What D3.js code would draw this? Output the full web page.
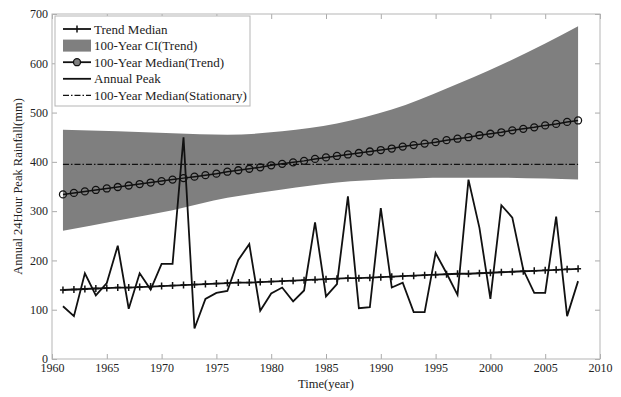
<html>
<head>
<style>
  body { margin: 0; background: #fff; font-family: "Liberation Serif", "Times New Roman", serif; overflow: hidden; }
  svg { display: block; }
  .tick text { font-family: "Liberation Serif", "Times New Roman", serif; font-size: 12px; fill: #222; }
  .tick line { stroke: #aaa; }
</style>
</head>
<body>
<div id="chart-holder"></div>
<script src="https://d3js.org/d3.v7.min.js"></script>
<script>
// data
var years = d3.range(1961, 2009);

var annualPeak = [107, 87, 174, 129, 154, 230, 102, 174, 141, 193,
                  193, 450, 62, 122, 134, 138, 201, 233, 98, 133,
                  145, 117, 139, 277, 127, 152, 330, 103, 105, 306,
                  145, 155, 95, 95, 215, 174, 130, 364, 266, 122,
                  312, 287, 181, 134, 134, 289, 87, 158];

var trendMedian = [140, 141, 142, 143, 144, 145, 145, 146, 147, 148,
                   149, 150, 151, 152, 153, 154, 155, 155, 156, 157,
                   158, 159, 160, 161, 162, 163, 164, 164, 165, 166,
                   167, 168, 169, 170, 171, 172, 173, 173, 174, 175,
                   176, 177, 178, 179, 180, 181, 182, 183];

var median100Trend = [334, 337, 340, 343, 346, 349, 352, 355, 358, 361,
                      364, 367, 370, 373, 376, 380, 383, 386, 389, 393,
                      396, 399, 402, 406, 409, 412, 415, 418, 421, 424,
                      427, 431, 434, 437, 440, 444, 447, 450, 454, 457,
                      460, 464, 467, 470, 474, 477, 481, 484];

var median100Stationary = 395;

var ciYears = [1961, 1966, 1971, 1976, 1981, 1986, 1991, 1996, 2001, 2005, 2008];
var ciUpper = [465, 462, 458, 455, 462, 478, 506, 549, 597, 640, 675];
var ciLower = [260, 281, 302, 327, 344, 358, 365, 368, 368, 366, 364];

var xTicks = [1960, 1965, 1970, 1975, 1980, 1985, 1990, 1995, 2000, 2005, 2010];
var yTicks = [0, 100, 200, 300, 400, 500, 600, 700];

var legendLabels = ['Trend Median', '100-Year CI(Trend)', '100-Year Median(Trend)',
                    'Annual Peak', '100-Year Median(Stationary)'];

var width = 621;
var height = 397;
var margin = {top: 14, right: 21, bottom: 38, left: 52};
var innerWidth = width - margin.left - margin.right;
var innerHeight = height - margin.top - margin.bottom;

var svg = d3.select('#chart-holder')
    .append('svg')
    .attr('width', width)
    .attr('height', height);

var g = svg.append('g')
    .attr('transform', 'translate(' + margin.left + ',' + margin.top + ')');

var x = d3.scaleLinear().domain([1960, 2010]).range([0, innerWidth]);
var y = d3.scaleLinear().domain([0, 700]).range([innerHeight, 0]);

// axes (ticks pointing inward on all sides)
g.append('g')
    .attr('transform', 'translate(0,' + innerHeight + ')')
    .call(d3.axisBottom(x).tickValues(xTicks).tickFormat(d3.format('d'))
        .tickSizeInner(-5).tickSizeOuter(0).tickPadding(4))
    .call(function(a) { a.select('.domain').remove(); });

g.append('g')
    .call(d3.axisTop(x).tickValues(xTicks).tickFormat('')
        .tickSizeInner(-5).tickSizeOuter(0))
    .call(function(a) { a.select('.domain').remove(); });

g.append('g')
    .call(d3.axisLeft(y).tickValues(yTicks)
        .tickSizeInner(-5).tickSizeOuter(0).tickPadding(4))
    .call(function(a) { a.select('.domain').remove(); });

g.append('g')
    .attr('transform', 'translate(' + innerWidth + ',0)')
    .call(d3.axisRight(y).tickValues(yTicks).tickFormat('')
        .tickSizeInner(-5).tickSizeOuter(0))
    .call(function(a) { a.select('.domain').remove(); });

// CI band
var ciData = ciYears.map(function(yr, i) {
    return {year: yr, lo: ciLower[i], hi: ciUpper[i]};
});

g.append('path')
    .datum(ciData)
    .attr('fill', '#7f7f7f')
    .attr('d', d3.area()
        .curve(d3.curveMonotoneX)
        .x(function(d) { return x(d.year); })
        .y0(function(d) { return y(d.lo); })
        .y1(function(d) { return y(d.hi); }));

// stationary median
g.append('line')
    .attr('x1', x(years[0]))
    .attr('x2', x(years[years.length - 1]))
    .attr('y1', y(median100Stationary))
    .attr('y2', y(median100Stationary))
    .attr('stroke', '#111')
    .attr('stroke-width', 1.2)
    .attr('stroke-dasharray', '6,2,1.5,2');

var line = d3.line()
    .x(function(d) { return x(d[0]); })
    .y(function(d) { return y(d[1]); });

// 100-year median (trend)
var medData = years.map(function(yr, i) { return [yr, median100Trend[i]]; });
g.append('path')
    .datum(medData)
    .attr('fill', 'none')
    .attr('stroke', '#111')
    .attr('stroke-width', 1.5)
    .attr('d', line);

g.selectAll('.circ')
    .data(medData)
    .enter()
    .append('circle')
    .attr('class', 'circ')
    .attr('cx', function(d) { return x(d[0]); })
    .attr('cy', function(d) { return y(d[1]); })
    .attr('r', 3.5)
    .attr('fill', 'none')
    .attr('stroke', '#111')
    .attr('stroke-width', 1.3);

// annual peak
var peakData = years.map(function(yr, i) { return [yr, annualPeak[i]]; });
g.append('path')
    .datum(peakData)
    .attr('fill', 'none')
    .attr('stroke', '#111')
    .attr('stroke-width', 1.8)
    .attr('d', line);

// trend median
var trendData = years.map(function(yr, i) { return [yr, trendMedian[i]]; });
g.append('path')
    .datum(trendData)
    .attr('fill', 'none')
    .attr('stroke', '#111')
    .attr('stroke-width', 1.8)
    .attr('d', line);

g.selectAll('.plus')
    .data(trendData)
    .enter()
    .append('path')
    .attr('class', 'plus')
    .attr('d', function(d) {
        var cx = x(d[0]), cy = y(d[1]);
        return 'M' + (cx - 3) + ',' + cy + 'H' + (cx + 3) +
               'M' + cx + ',' + (cy - 3.5) + 'V' + (cy + 3.5);
    })
    .attr('stroke', '#111')
    .attr('stroke-width', 1.5);

// frame
g.append('rect')
    .attr('width', innerWidth)
    .attr('height', innerHeight)
    .attr('fill', 'none')
    .attr('stroke', '#b5b5b5')
    .attr('stroke-width', 1);

// legend
var lg = g.append('g').attr('transform', 'translate(3,2)');
lg.append('rect')
    .attr('width', 195)
    .attr('height', 90)
    .attr('fill', '#fff')
    .attr('stroke', '#b5b5b5');

legendLabels.forEach(function(label, i) {
    var cy = 13 + i * 16.6;
    var row = lg.append('g');
    if (i === 1) {
        row.append('rect')
            .attr('x', 8).attr('y', cy - 6)
            .attr('width', 28).attr('height', 12)
            .attr('fill', '#7f7f7f');
    } else {
        var ln = row.append('line')
            .attr('x1', 8).attr('x2', 36)
            .attr('y1', cy).attr('y2', cy)
            .attr('stroke', '#111')
            .attr('stroke-width', i === 4 ? 1.2 : 1.8);
        if (i === 4) ln.attr('stroke-dasharray', '6,2,1.5,2');
    }
    if (i === 0) {
        row.append('line')
            .attr('x1', 22).attr('x2', 22)
            .attr('y1', cy - 3.5).attr('y2', cy + 3.5)
            .attr('stroke', '#111').attr('stroke-width', 1.5);
    }
    if (i === 2) {
        row.append('circle')
            .attr('cx', 22).attr('cy', cy).attr('r', 3.5)
            .attr('fill', '#7f7f7f')
            .attr('stroke', '#111').attr('stroke-width', 1.3);
    }
    row.append('text')
        .attr('x', 39)
        .attr('y', cy)
        .attr('dominant-baseline', 'central')
        .style('font-size', '13px')
        .style('fill', '#222')
        .text(label);
});

// axis labels
svg.append('text')
    .attr('x', margin.left + innerWidth / 2)
    .attr('y', 388)
    .attr('text-anchor', 'middle')
    .style('font-size', '12.5px')
    .style('fill', '#222')
    .text('Time(year)');

svg.append('text')
    .attr('transform', 'translate(18,' + (margin.top + innerHeight / 2) + ') rotate(-90)')
    .attr('text-anchor', 'middle')
    .attr('dominant-baseline', 'central')
    .style('font-size', '12.5px')
    .style('fill', '#222')
    .text('Annual 24Hour Peak Rainfall(mm)');
</script>
</body>
</html>
